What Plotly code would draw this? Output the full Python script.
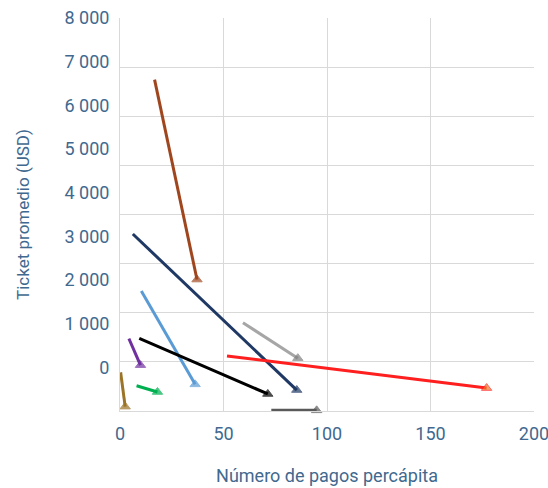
import plotly.graph_objects as go

# Each series runs from a starting point to an end point (drawn as an arrow)
x_start = [16.7, 6.2, 10.3, 9.3, 4.3, 8.0, 0.3, 59.4, 51.7, 73.1]
y_start = [6590, 3053, 1748, 665, 656, -421, -114, 1022, 259, -985]
x_end = [37.2, 85.4, 36.3, 71.4, 9.9, 18.1, 2.5, 85.9, 177.1, 95.0]
y_end = [2010, -520, -390, -610, 50, -565, -900, 210, -475, -985]
line_colors = ["#A0461E", "#1F3864", "#5B9BD5", "#000000", "#7030A0",
               "#00B050", "#9C7427", "#A6A6A6", "#FF1F1F", "#595959"]
head_colors = ["#A0461E", "#1F3864", "#5B9BD5", "#000000", "#7030A0",
               "#00B050", "#9C7427", "#7F7F7F", "#F07A2A", "#595959"]
head_edges = ["#A0461E", "#1F3864", "#5B9BD5", "#000000", "#7030A0",
              "#00B050", "#9C7427", "#7F7F7F", "#FF1F1F", "#595959"]

y_tick_vals = [0, 1000, 2000, 3000, 4000, 5000, 6000, 7000, 8000]
y_tick_text = ["0", "1 000", "2 000", "3 000", "4 000", "5 000", "6 000", "7 000", "8 000"]
x_tick_vals = [0, 50, 100, 150, 200]
grid_steps = [0, 1, 2, 3, 4, 5, 6, 7, 8]

text_color = "#41698F"
grid_color = "#D9D9D9"
font_family = "Roboto, 'Open Sans', sans-serif"
font_size = 18

fig = go.Figure()

for xs, ys, xe, ye, lc, hc, he in zip(x_start, y_start, x_end, y_end,
                                      line_colors, head_colors, head_edges):
    fig.add_trace(go.Scatter(
        x=[xs, xe], y=[ys, ye],
        mode="lines+markers",
        line=dict(color=lc, width=3),
        marker=dict(symbol=["circle", "triangle-up"], size=[0, 9],
                    color=hc, line=dict(width=1, color=he)),
        cliponaxis=False,
        showlegend=False,
        hoverinfo="skip",
    ))

# invisible trace that carries the gridline axis
fig.add_trace(go.Scatter(x=[0], y=[0], yaxis="y2", mode="markers",
                         marker=dict(size=0, opacity=0), showlegend=False,
                         hoverinfo="skip"))

fig.update_layout(
    width=548, height=488,
    margin=dict(l=120, r=14, t=18, b=77),
    paper_bgcolor="white", plot_bgcolor="white",
    font=dict(family=font_family, color=text_color, size=font_size),
    xaxis=dict(
        range=[0, 200], tickvals=x_tick_vals, showgrid=True, gridcolor=grid_color,
        gridwidth=1, zeroline=False, showline=True, linecolor=grid_color,
        ticks="", ticklabelstandoff=6, automargin=False,
        ticklabeloverflow="allow",
        tickfont=dict(size=font_size, color=text_color),
        title=dict(text="Número de pagos percápita",
                   font=dict(size=font_size, color=text_color), standoff=26),
    ),
    yaxis=dict(
        range=[-1000, 8000], tickvals=y_tick_vals, ticktext=y_tick_text,
        showgrid=False, zeroline=False, showline=True, linecolor=grid_color,
        ticks="", ticklabelstandoff=6, automargin=False,
        ticklabeloverflow="allow",
        tickfont=dict(size=font_size, color=text_color),
        title=dict(text="Ticket promedio (USD)",
                   font=dict(size=17, color=text_color), standoff=30),
    ),
    yaxis2=dict(
        range=[0, 8], tickvals=grid_steps, overlaying="y", side="left",
        showgrid=True, gridcolor=grid_color, gridwidth=1, automargin=False,
        showticklabels=False, zeroline=False, showline=False, ticks="",
    ),
)

fig.write_html("out.html")
